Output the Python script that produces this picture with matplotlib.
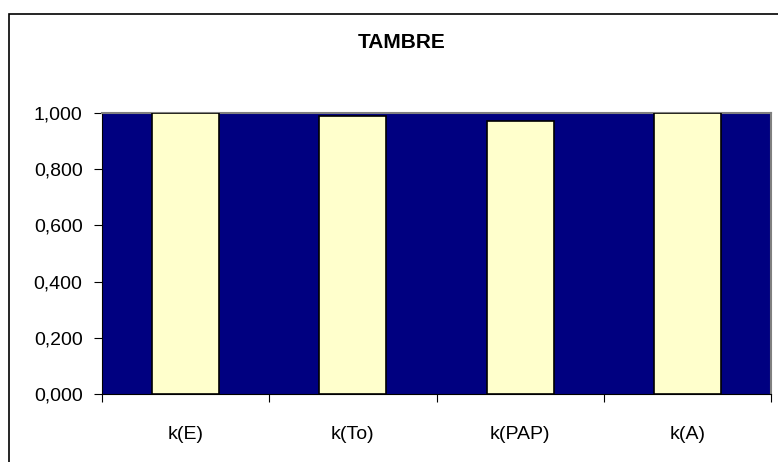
import numpy as np
import matplotlib.pyplot as plt
import matplotlib.patches as patches
from matplotlib.ticker import FuncFormatter

# Datos del gráfico
categorias = ["k(E)", "k(To)", "k(PAP)", "k(A)"]
valores = [1.000, 0.990, 0.972, 1.000]
titulo = "TAMBRE"

plt.rcParams['font.family'] = ['Liberation Sans', 'DejaVu Sans']

W, H = 778, 462
fig = plt.figure(figsize=(W / 100, H / 100), dpi=100)

# Marco exterior (solo se ven los bordes izquierdo y superior)
frame = patches.Rectangle((9 / W, -0.1), 1.2, 1.1 - 14 / H, transform=fig.transFigure,
                          facecolor='none', edgecolor='black', linewidth=1.2)
fig.patches.append(frame)

# Área de trazado
left, right, top, bottom = 102, 771, 113, 394
ax = fig.add_axes([left / W, 1 - bottom / H, (right - left) / W, (bottom - top) / H])
ax.set_facecolor('#000080')

x = np.arange(len(categorias))
ax.bar(x, valores, width=0.4, color='#FFFFCC', edgecolor='black', linewidth=1.2, zorder=3)

ax.set_xlim(-0.5, len(categorias) - 0.5)
ax.set_ylim(0, 1.0)
ax.set_yticks(np.arange(0, 1.01, 0.2))
ax.yaxis.set_major_formatter(FuncFormatter(lambda v, p: f"{v:.3f}".replace('.', ',')))

# Marcas del eje X en los límites de categoría, etiquetas centradas
ax.set_xticks(np.arange(-0.5, len(categorias) + 0.5, 1.0))
ax.set_xticklabels([])
ax.set_xticks(x, minor=True)
ax.set_xticklabels(categorias, minor=True)
ax.tick_params(axis='x', which='minor', length=0, pad=23, labelsize=14)
ax.tick_params(axis='x', which='major', length=6, width=0.8, direction='out')
ax.tick_params(axis='y', length=6, width=0.8, direction='out', labelsize=14, pad=8)

for s in ['top', 'right']:
    ax.spines[s].set_color('#808080')
    ax.spines[s].set_linewidth(1.5)
ax.spines['left'].set_color('black')
ax.spines['bottom'].set_color('black')

fig.text(402 / W, 1 - 42 / H, titulo, ha='center', va='center', fontsize=15, fontweight='bold')

fig.savefig('out.png', dpi=100)
